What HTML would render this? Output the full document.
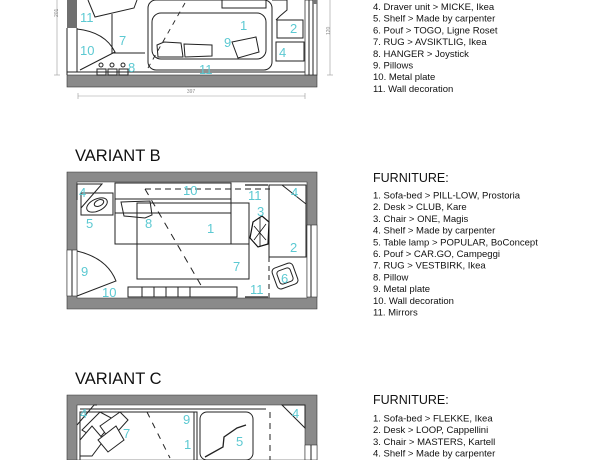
<!DOCTYPE html>
<html><head><meta charset="utf-8"><style>
html,body{margin:0;padding:0;background:#fff;width:600px;height:460px;overflow:hidden}
svg{display:block}
.t{font-family:"Liberation Sans",Arial,sans-serif;fill:#111}
.l{font-family:"Liberation Sans",Arial,sans-serif;fill:#5cc9d2;font-size:13px}
.s{fill:none;stroke:#222;stroke-width:1}
</style></head><body>
<svg width="600" height="460" viewBox="0 0 600 460" xmlns="http://www.w3.org/2000/svg">
<!-- ===== VARIANT A ===== -->
<g>
<rect x="67" y="0" width="10" height="28" fill="#6f6f6f"/>
<rect x="67" y="75" width="250" height="12" fill="#8a8a8a" stroke="#333" stroke-width="0.6"/>
<line x1="67" y1="28" x2="67" y2="75" class="s"/>
<line x1="77" y1="28" x2="77" y2="72" class="s"/>
<line x1="67" y1="72" x2="317" y2="72" class="s"/>
<rect x="305" y="0" width="12" height="75" fill="#fff" stroke="#333" stroke-width="0.8"/>
<line x1="309" y1="0" x2="309" y2="75" class="s"/>
<line x1="313" y1="0" x2="313" y2="75" class="s"/>
<rect x="313" y="0" width="4" height="4" fill="#777"/>
<path d="M77 29 Q105 32 115 52 L80 70" class="s"/>
<path d="M88 0 L95 17 L134 8 L137 0" class="s"/>
<path d="M112 14 L112 53 L145 53" class="s"/>
<rect x="148" y="0" width="124" height="70" rx="8" class="s"/>
<rect x="152" y="13" width="114" height="46" rx="9" class="s"/>
<path d="M157 45 L164 42 L181 43 L183 57 L158 57 Z" class="s"/>
<path d="M184 44 L212 45 L212 56 L185 57 Z" class="s"/>
<path d="M232 42 L256 37 L259 52 L238 58 Z" class="s"/>
<line x1="185" y1="3" x2="148" y2="68" stroke="#222" stroke-width="0.9" stroke-dasharray="5 5"/>
<rect x="222" y="0" width="44" height="8" class="s"/>
<path d="M272 0 L287 0 L287 10 L280 16 L276 20" class="s"/>
<rect x="277" y="20" width="26" height="18" class="s"/>
<rect x="276" y="42" width="28" height="19" class="s"/>
<g class="s"><rect x="97" y="69" width="9" height="6"/><rect x="108" y="69" width="9" height="6"/><rect x="119" y="69" width="9" height="6"/>
<circle cx="101" cy="65" r="2"/><circle cx="112" cy="65" r="2"/><circle cx="123" cy="65" r="2"/></g>
<line x1="78" y1="96" x2="305" y2="96" stroke="#999" stroke-width="0.6"/>
<line x1="78" y1="93" x2="78" y2="99" stroke="#999" stroke-width="0.6"/>
<line x1="305" y1="93" x2="305" y2="99" stroke="#999" stroke-width="0.6"/>
<text x="191" y="93" font-size="5" class="t" style="fill:#888" text-anchor="middle">397</text>
<line x1="57" y1="0" x2="57" y2="75" stroke="#999" stroke-width="0.6"/>
<line x1="54" y1="75" x2="60" y2="75" stroke="#999" stroke-width="0.6"/>
<text x="55" y="20" font-size="5" class="t" style="fill:#888" transform="rotate(-90 55 17)">201</text>
<line x1="330" y1="0" x2="330" y2="75" stroke="#999" stroke-width="0.6"/>
<line x1="327" y1="75" x2="333" y2="75" stroke="#999" stroke-width="0.6"/>
<text x="327" y="38" font-size="5" class="t" style="fill:#888" transform="rotate(-90 327 35)">120</text>
<text x="80" y="22" class="l">11</text>
<text x="119" y="45" class="l">7</text>
<text x="80" y="55" class="l">10</text>
<text x="128" y="72" class="l">8</text>
<text x="240" y="30" class="l">1</text>
<text x="224" y="47" class="l">9</text>
<text x="199" y="74" class="l">11</text>
<text x="290" y="33" class="l">2</text>
<text x="279" y="57" class="l">4</text>
</g>
<g class="t" font-size="9.5">
<text x="373" y="10">4. Draver unit &gt; MICKE, Ikea</text>
<text x="373" y="21.7">5. Shelf &gt; Made by carpenter</text>
<text x="373" y="33.4">6. Pouf &gt; TOGO, Ligne Roset</text>
<text x="373" y="45.1">7. RUG &gt; AVSIKTLIG, Ikea</text>
<text x="373" y="56.8">8. HANGER &gt; Joystick</text>
<text x="373" y="68.5">9. Pillows</text>
<text x="373" y="80.2">10. Metal plate</text>
<text x="373" y="91.9">11. Wall decoration</text>
</g>

<!-- ===== VARIANT B ===== -->
<text x="75" y="161" class="t" font-size="16.5">VARIANT B</text>
<g>
<path fill="#8a8a8a" stroke="#333" stroke-width="0.6" fill-rule="evenodd" d="M67 172 H317 V309 H67 Z M77 182 V298 H307 V182 Z"/>
<rect x="67" y="250" width="10" height="46" fill="#fff" stroke="#333" stroke-width="0.6"/>
<line x1="72" y1="250" x2="72" y2="296" class="s"/>
<rect x="307" y="225" width="10" height="72" fill="#fff" stroke="#333" stroke-width="0.6"/>
<line x1="311" y1="225" x2="311" y2="297" class="s"/>
<path d="M77 251 Q107 258 116 281 L77 296" class="s"/>
<path d="M77 200 L77 184 L102 184 L81 208" class="s"/>
<rect x="81" y="193" width="32" height="22" class="s"/>
<ellipse cx="97" cy="205" rx="11" ry="6" transform="rotate(-25 97 205)" class="s"/>
<ellipse cx="99" cy="203" rx="5" ry="3" transform="rotate(-25 99 203)" class="s"/>
<rect x="115" y="183" width="116" height="61" class="s"/>
<line x1="115" y1="199" x2="231" y2="199" class="s"/>
<line x1="115" y1="213" x2="231" y2="213" class="s"/>
<path d="M121 202 L150 201 L152 215 L145 218 L124 216 Z" class="s"/>
<rect x="137" y="203" width="112" height="76" class="s" style="fill:none"/>
<rect x="137" y="244" width="112" height="35" fill="#fff" stroke="#222" stroke-width="1"/>
<line x1="145" y1="189" x2="270" y2="189" stroke="#222" stroke-width="1" stroke-dasharray="6 4"/>
<line x1="145" y1="189" x2="202" y2="287" stroke="#222" stroke-width="1" stroke-dasharray="7 6"/>
<rect x="269" y="185" width="37" height="72" class="s"/>
<path d="M282 185 L306 185 L306 204 Z" class="s"/>
<path d="M253 222 L262 216 L269 222 L268 244 L258 247 L250 238 Z" fill="#fff" stroke="#111" stroke-width="1.2"/>
<path d="M254 226 L266 240 M266 224 L254 240 M260 218 L260 246" stroke="#111" stroke-width="0.8"/>
<rect x="274" y="265" width="22" height="22" rx="4" transform="rotate(-20 285 276)" class="s"/>
<rect x="278" y="269" width="14" height="14" rx="3" transform="rotate(-20 285 276)" class="s"/>
<line x1="269" y1="257" x2="269" y2="298" stroke="#222" stroke-width="1" stroke-dasharray="5 4"/>
<rect x="128" y="287" width="109" height="10" class="s"/>
<path d="M142 287 V297 M154 287 V297 M166 287 V297 M178 287 V297 M190 287 V297" class="s"/>
<line x1="245" y1="185" x2="268" y2="185" stroke="#222" stroke-width="1.2"/>
<line x1="245" y1="297" x2="268" y2="297" stroke="#222" stroke-width="1.2"/>
<text x="79" y="197" class="l">4</text>
<text x="86" y="228" class="l">5</text>
<text x="145" y="228" class="l">8</text>
<text x="207" y="233" class="l">1</text>
<text x="183" y="195" class="l">10</text>
<text x="248" y="200" class="l">11</text>
<text x="257" y="216" class="l">3</text>
<text x="291" y="197" class="l">4</text>
<text x="290" y="252" class="l">2</text>
<text x="233" y="271" class="l">7</text>
<text x="281" y="283" class="l">6</text>
<text x="81" y="276" class="l">9</text>
<text x="102" y="297" class="l">10</text>
<text x="250" y="294" class="l">11</text>
</g>
<text x="373" y="182" class="t" font-size="12.5">FURNITURE:</text>
<g class="t" font-size="9.5">
<text x="373" y="198.5">1. Sofa-bed &gt; PILL-LOW, Prostoria</text>
<text x="373" y="210.2">2. Desk &gt; CLUB, Kare</text>
<text x="373" y="221.9">3. Chair &gt; ONE, Magis</text>
<text x="373" y="233.6">4. Shelf &gt; Made by carpenter</text>
<text x="373" y="245.3">5. Table lamp &gt; POPULAR, BoConcept</text>
<text x="373" y="257">6. Pouf &gt; CAR.GO, Campeggi</text>
<text x="373" y="268.7">7. RUG &gt; VESTBIRK, Ikea</text>
<text x="373" y="280.4">8. Pillow</text>
<text x="373" y="292.1">9. Metal plate</text>
<text x="373" y="303.8">10. Wall decoration</text>
<text x="373" y="315.5">11. Mirrors</text>
</g>

<!-- ===== VARIANT C ===== -->
<text x="75" y="384" class="t" font-size="16.5">VARIANT C</text>
<g>
<path fill="#8a8a8a" stroke="#333" stroke-width="0.6" fill-rule="evenodd" d="M67 395 H317 V460 H67 Z M77 405 V460 H305 V405 Z"/>
<rect x="305" y="445" width="12" height="15" fill="#fff" stroke="#333" stroke-width="0.6"/>
<line x1="311" y1="445" x2="311" y2="460" class="s"/>
<path d="M77 425 L94 405 L97 405" class="s"/>
<path d="M282 405 L305 405 L305 428 Z" class="s"/>
<rect x="80" y="412" width="117" height="50" class="s"/>
<line x1="80" y1="409" x2="266" y2="409" stroke="#222" stroke-width="1"/>
<line x1="194" y1="412" x2="194" y2="460" class="s"/>
<rect x="200" y="412" width="53" height="48" rx="7" class="s"/>
<path d="M205 457 L223 447 L224 437 L237 428 L246 425" stroke="#222" stroke-width="1.3" fill="none"/>
<line x1="270" y1="412" x2="270" y2="460" stroke="#222" stroke-width="1" stroke-dasharray="6 5"/>
<line x1="147" y1="412" x2="170" y2="458" stroke="#222" stroke-width="1" stroke-dasharray="6 6"/>
<g class="s" style="fill:#fff">
<path d="M82 430 L100 412 L115 420 L98 440 Z"/>
<path d="M100 426 L120 412 L128 420 L110 440 Z"/>
<path d="M80 440 L92 426 L104 440 L92 456 L80 456 Z"/>
<path d="M98 440 L116 426 L124 440 L108 452 Z"/>
</g>
<text x="80" y="418" class="l">4</text>
<text x="123" y="438" class="l">7</text>
<text x="183" y="424" class="l">9</text>
<text x="184" y="449" class="l">1</text>
<text x="236" y="446" class="l">5</text>
<text x="292" y="418" class="l">4</text>
</g>
<text x="373" y="404" class="t" font-size="12.5">FURNITURE:</text>
<g class="t" font-size="9.5">
<text x="373" y="421.5">1. Sofa-bed &gt; FLEKKE, Ikea</text>
<text x="373" y="433.2">2. Desk &gt; LOOP, Cappellini</text>
<text x="373" y="444.9">3. Chair &gt; MASTERS, Kartell</text>
<text x="373" y="456.6">4. Shelf &gt; Made by carpenter</text>
</g>
</svg>
</body></html>
